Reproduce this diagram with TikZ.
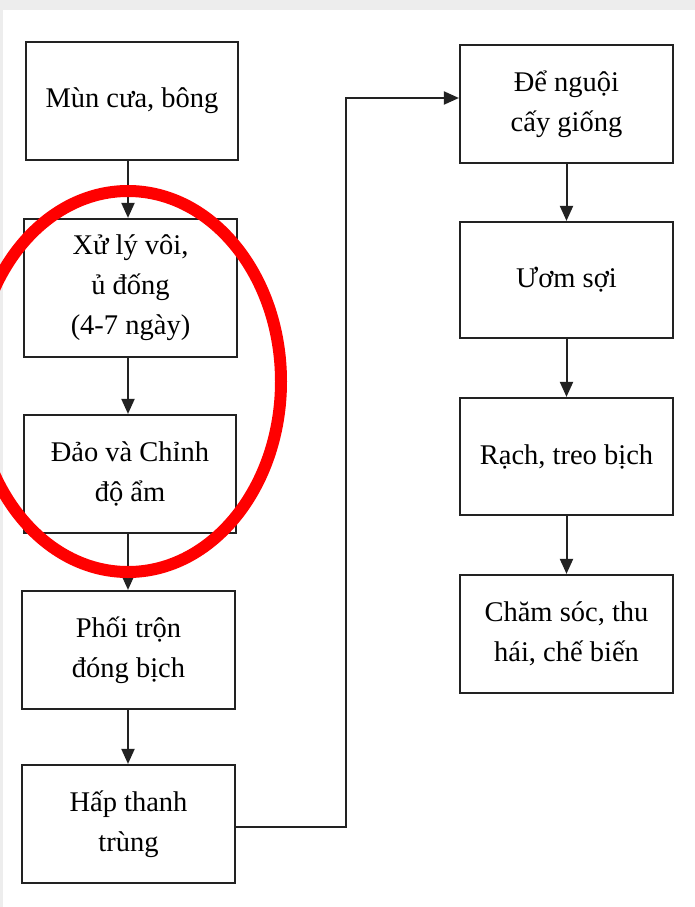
\documentclass[tikz,border=0pt]{standalone}
\usepackage{fontspec}
\setmainfont{Liberation Serif}
\usetikzlibrary{arrows.meta}
\definecolor{boxline}{HTML}{222222}
\definecolor{pagegray}{HTML}{EDEDED}
\definecolor{markred}{HTML}{FF0000}
\tikzset{
  stepbox/.style={draw=boxline, line width=2.2pt, fill=white, inner sep=0pt,
    align=center, text=black, font=\fontsize{28.5}{40}\selectfont},
  flow/.style={draw=boxline, line width=2pt,
    -{Triangle[length=15pt,width=13pt]}},
}
\begin{document}
\begin{tikzpicture}[x=1pt,y=-1pt]
\useasboundingbox (0,0) rectangle (695,907);
\fill[pagegray] (0,0) rectangle (695,907);
\fill[white] (2.5,10.5) rectangle (695,907);
% left column
\node[stepbox, minimum width=212pt, minimum height=118pt] (b1) at (132,101) {Mùn cưa, bông};
\node[stepbox, minimum width=213pt, minimum height=138pt] (b2) at (130.5,288) {Xử lý vôi,\\ủ đống\\(4-7 ngày)};
\node[stepbox, minimum width=212pt, minimum height=118pt] (b3) at (130,474) {Đảo và Chỉnh\\độ ẩm};
\node[stepbox, minimum width=213pt, minimum height=118pt] (b4) at (128.5,650) {Phối trộn\\đóng bịch};
\node[stepbox, minimum width=213pt, minimum height=118pt] (b5) at (128.5,824) {Hấp thanh\\trùng};
% right column
\node[stepbox, minimum width=213pt, minimum height=118pt] (b6) at (566.5,104) {Để nguội\\cấy giống};
\node[stepbox, minimum width=213pt, minimum height=116pt] (b7) at (566.5,280) {Ươm sợi};
\node[stepbox, minimum width=213pt, minimum height=117pt] (b8) at (566.5,456.5) {Rạch, treo bịch};
\node[stepbox, minimum width=213pt, minimum height=118pt] (b9) at (566.5,634) {Chăm sóc, thu\\hái, chế biến};
% connectors
\draw[flow] (128,160) coordinate (s1) -- (s1 |- b2.north);
\draw[flow] (128,357) coordinate (s2) -- (s2 |- b3.north);
\draw[flow] (128,533) coordinate (s3) -- (s3 |- b4.north);
\draw[flow] (128,709) coordinate (s4) -- (s4 |- b5.north);
\draw[flow] (b6.south) -- (b6.south |- b7.north);
\draw[flow] (b7.south) -- (b7.south |- b8.north);
\draw[flow] (b8.south) -- (b8.south |- b9.north);
\coordinate (k) at (346,98);
\coordinate (j) at (235,827);
\draw[flow] (j) -| (k) -- (k -| b6.west);
% red ellipse
\begin{scope}
\clip (0,0) rectangle (695,907);
\draw[markred, line width=12pt] (128,381.5) ellipse [x radius=153, y radius=190.5];
\end{scope}
\end{tikzpicture}
\end{document}
